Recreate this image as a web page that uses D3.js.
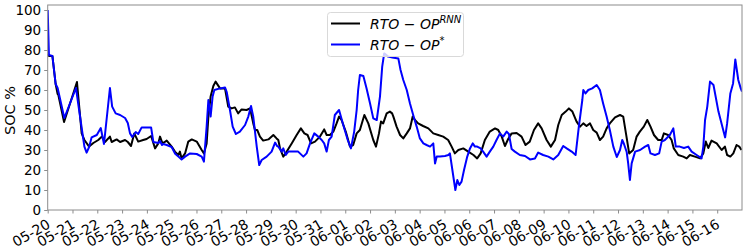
<!DOCTYPE html>
<html><head><meta charset="utf-8">
<script src="https://cdn.jsdelivr.net/npm/d3@7"></script>
<style>body{margin:0;background:#fff}svg{display:block}</style>
</head><body><svg id="c" width="747" height="249"></svg>
<script>
const tickLabels = ["05-20","05-21","05-22","05-23","05-24","05-25","05-26","05-27","05-28","05-29","05-30","05-31","06-01","06-02","06-03","06-04","06-05","06-06","06-07","06-08","06-09","06-10","06-11","06-12","06-13","06-14","06-15","06-16"];
const yTicks = [0,10,20,30,40,50,60,70,80,90,100];
const seriesNames = ["RNN", "*"];
// time in days after 05-20 00:00
const blueDays = [0,0.05,0.19,0.32,0.40,0.67,1.14,1.40,1.48,1.57,1.67,1.77,1.98,2.14,2.27,2.51,2.60,2.74,2.92,3.12,3.23,3.32,3.41,3.55,3.65,3.79,4.17,4.26,4.46,4.53,4.61,4.66,4.80,5.00,5.13,5.27,5.40,5.54,5.74,6.01,6.21,6.30,6.41,6.48,6.57,6.65,6.72,6.95,7.15,7.22,7.35,7.46,7.59,7.75,7.96,8.09,8.20,8.29,8.43,8.53,8.63,8.83,9.03,9.17,9.25,9.30,9.44,9.50,9.60,9.70,9.90,10.10,10.31,10.44,10.58,10.75,10.91,11.05,11.15,11.25,11.34,11.45,11.58,11.75,11.92,12.10,12.23,12.36,12.46,12.52,12.59,12.73,12.86,13.00,13.13,13.27,13.40,13.49,13.57,13.73,13.90,14.14,14.23,14.34,14.48,14.61,14.74,14.88,15.01,15.15,15.28,15.42,15.55,15.62,15.69,15.82,16.02,16.16,16.22,16.29,16.38,16.44,16.52,16.60,16.69,16.79,16.92,17.03,17.14,17.23,17.32,17.46,17.56,17.70,17.83,17.97,18.10,18.24,18.37,18.51,18.60,18.71,18.84,19.04,19.25,19.45,19.65,19.78,19.98,20.19,20.39,20.59,20.79,20.93,21.13,21.29,21.42,21.56,21.60,21.69,21.80,21.96,22.14,22.27,22.40,22.54,22.67,22.81,22.95,23.08,23.17,23.24,23.35,23.41,23.48,23.55,23.69,23.89,24.09,24.22,24.31,24.49,24.66,24.76,24.89,25.09,25.23,25.33,25.49,25.66,25.83,25.97,26.17,26.37,26.44,26.51,26.60,26.71,26.85,27.05,27.19,27.32,27.40,27.53,27.64,27.73,27.85,27.95,28.0];
const blueSoc = [100,77.5,77,63,61,46,61,38.5,31.7,28.7,31.5,36.3,37.5,41,33,61,51.7,48.3,47.5,46,43.5,38.3,36.5,39,38,41.3,41.3,34,33.5,34.5,32.5,33,32.5,31.5,28.3,26.7,25.3,26.7,28.3,28,26.7,24.2,41.7,55,46.7,56.7,60,60.8,61.3,59,50,41.7,38,39.2,42.5,46.7,52,46.7,31.7,22.5,25,26.7,29.2,33.7,32,31.7,29.2,30.8,27.5,29.2,29.2,29.2,26.7,28.3,33.3,38.3,36.7,35,33.3,29.2,35,36.7,47.5,50,42.5,35,30.8,39.2,50,60,67.5,67,60.8,53.3,45.8,45,56.7,71.7,78.3,76.7,76.3,75.8,70,65,60,53.3,47.5,41.7,35.8,33.3,32.5,31.7,33.3,23.3,26.7,26.7,27,27.5,28.3,22.5,15,10,15,12.5,14.2,20,26.7,30.8,33.3,31.7,31.7,30.8,29.2,26.7,29.2,31.7,35,38.3,36.7,39.2,38,30.5,29.2,27.5,27,25.3,25.8,28.7,27.5,26.7,25.3,27.5,32,30.8,29.2,27.5,41.7,55,60,58.3,60,60.8,62.5,60,53.3,46.7,40,31.7,26.5,30,35,33,29,23.3,15,23.3,29.2,30,31.7,32.5,28.3,27.5,28.3,34.2,35,37.5,40.8,31.7,31.7,31,31.7,29.2,27.5,25.8,31.7,45,51.7,64.2,62.5,49.2,42.5,36.3,43.3,58.3,63.3,75.3,65,60.8,59.2];
const blackDays = [0,0.05,0.19,0.32,0.40,0.43,0.66,1.18,1.37,1.48,1.67,1.84,2.04,2.18,2.31,2.51,2.58,2.78,2.92,3.12,3.23,3.36,3.49,3.65,3.85,3.99,4.17,4.33,4.46,4.53,4.61,4.66,4.80,5.00,5.13,5.27,5.33,5.40,5.54,5.67,5.81,6.01,6.21,6.30,6.41,6.48,6.57,6.68,6.77,6.95,7.15,7.28,7.42,7.55,7.68,7.82,8.02,8.16,8.29,8.36,8.45,8.56,8.69,8.90,9.10,9.23,9.30,9.37,9.50,9.64,9.84,10.04,10.21,10.35,10.48,10.62,10.78,10.98,11.15,11.25,11.38,11.52,11.65,11.75,11.85,12.02,12.19,12.32,12.46,12.59,12.77,12.93,13.13,13.24,13.36,13.44,13.53,13.67,13.80,13.89,13.94,14.07,14.21,14.34,14.48,14.61,14.72,14.81,14.94,15.14,15.35,15.55,15.75,15.95,16.15,16.29,16.42,16.56,16.76,16.96,17.17,17.32,17.46,17.63,17.83,18.04,18.17,18.31,18.44,18.57,18.71,18.91,19.11,19.27,19.44,19.61,19.78,19.92,20.12,20.29,20.46,20.59,20.73,20.89,21.02,21.16,21.33,21.47,21.60,21.73,21.87,22.00,22.14,22.27,22.40,22.54,22.67,22.88,23.08,23.21,23.32,23.45,23.61,23.75,23.88,24.04,24.18,24.31,24.45,24.62,24.76,24.85,25.02,25.16,25.25,25.43,25.63,25.77,25.90,26.10,26.31,26.44,26.54,26.64,26.77,26.98,27.18,27.31,27.40,27.53,27.65,27.78,27.89,27.98];
const blackSoc = [78,77,77,63,58,57.5,44,64,38.3,35,31.7,33.5,35,36.7,34,36.7,34,35.3,34,35,34,32,38.3,34.2,35,35.5,37,30.8,33.3,36.7,34,33.5,34.7,31.7,29.2,27.5,29.2,25.8,28.3,34.2,35.3,34.2,30,28.3,33.3,46.7,56.7,62,64.2,60.8,60.8,51.7,50.8,51.3,48.3,50.3,50,50.8,43.3,40,40,36.7,34.7,35.3,37.5,35.8,35,30.8,26.7,29.2,33.3,37.5,40.8,38.3,37.5,33.3,34.2,36.7,40.3,37.5,37.5,39.2,43.3,46.7,45,39.2,31.7,32.5,38.3,40,47.5,43.3,35,31.7,38.3,44.2,43.3,48.3,49.2,48.3,46.7,41.7,37.5,35.8,38.3,40.8,46.7,45,43.3,42,40.8,38.3,37.5,36.7,35,31.7,28.3,30,30.8,29.2,27.5,25.8,28.3,35,39.2,40.8,40,36.7,32,35.5,38.3,38.5,36.7,32.5,34.2,40,43.3,40.8,35,31.7,35,42.5,47.5,49.2,50.8,49.2,44.2,41.7,43.3,42,43.3,40,38.7,35,36.7,40.8,43.3,46.3,47.5,46.7,38.3,28.3,30,36.7,39.2,41.7,45,41.7,37.5,35,35,38.3,37.5,35,30.8,27.5,26.7,25.8,27.5,26.7,25.8,28.3,34.2,31,34.7,33.3,30,31.7,27.5,26.7,28.3,32.5,31.7,30];

const svg = d3.select("#c");
const L = 47.7, R = 742, T = 5, B = 210;
const x = d3.scaleLinear().domain([0, 28]).range([L, R]);
const y = d3.scaleLinear().domain([0, 102.5]).range([B, T]);
const font = "DejaVu Sans";

svg.append("defs").append("clipPath").attr("id","clip")
  .append("rect").attr("x",L).attr("y",T).attr("width",R-L).attr("height",B-T);

const line = d3.line().x(d=>x(d[0])).y(d=>y(d[1]));
const blk = blackDays.map((d,i)=>[d, blackSoc[i]]);
const blu = blueDays.map((d,i)=>[d, blueSoc[i]]);
const g = svg.append("g").attr("clip-path","url(#clip)");
g.append("path").attr("d", line(blk)).attr("fill","none").attr("stroke","#000").attr("stroke-width",2).attr("stroke-linejoin","round");
g.append("path").attr("d", line(blu)).attr("fill","none").attr("stroke","#0000ff").attr("stroke-width",2).attr("stroke-linejoin","round");

// frame
svg.append("rect").attr("x",L).attr("y",T).attr("width",R-L).attr("height",B-T)
  .attr("fill","none").attr("stroke","#8c8c8c").attr("stroke-width",1);

// y axis
const ya = svg.append("g").attr("transform",`translate(${L},0)`)
  .call(d3.axisLeft(y).tickValues(yTicks).tickSize(3.5).tickPadding(3));
ya.select(".domain").remove();
ya.selectAll("line").attr("stroke","#8c8c8c");
ya.selectAll("text").attr("font-family",font).attr("font-size",13.5).attr("fill","#000");

// x axis
const xa = svg.append("g").attr("transform",`translate(0,${B})`)
  .call(d3.axisBottom(x).tickValues(d3.range(tickLabels.length)).tickFormat(i=>tickLabels[i]).tickSize(3.5));
xa.select(".domain").remove();
xa.selectAll("line").attr("stroke","#8c8c8c");
xa.selectAll("text").attr("font-family",font).attr("font-size",14).attr("fill","#000")
  .attr("text-anchor","end").attr("dy",null).attr("y",null)
  .attr("transform","translate(3,17) rotate(-30)");

// y label
svg.append("text").attr("transform",`translate(15,${(T+B)/2+3}) rotate(-90)`)
  .attr("text-anchor","middle").attr("font-family",font).attr("font-size",14.5).text("SOC %");

// legend
const lg = svg.append("g");
lg.append("rect").attr("x",327.5).attr("y",12.5).attr("width",136).attr("height",44).attr("rx",3)
  .attr("fill","#fff").attr("fill-opacity",0.8).attr("stroke","#d9d9d9");
const colors = ["#000","#0000ff"];
seriesNames.forEach((s,i)=>{
  const yy = 23.5 + i*21;
  lg.append("line").attr("x1",331).attr("x2",360).attr("y1",yy).attr("y2",yy).attr("stroke",colors[i]).attr("stroke-width",2);
  const t = lg.append("text").attr("x",370).attr("y",yy+5).attr("font-family",font).attr("font-size",14).attr("font-style","italic");
  t.append("tspan").text("RTO − OP");
  t.append("tspan").attr("font-size",10).attr("dy",-6).text(s);
});
</script></body></html>
